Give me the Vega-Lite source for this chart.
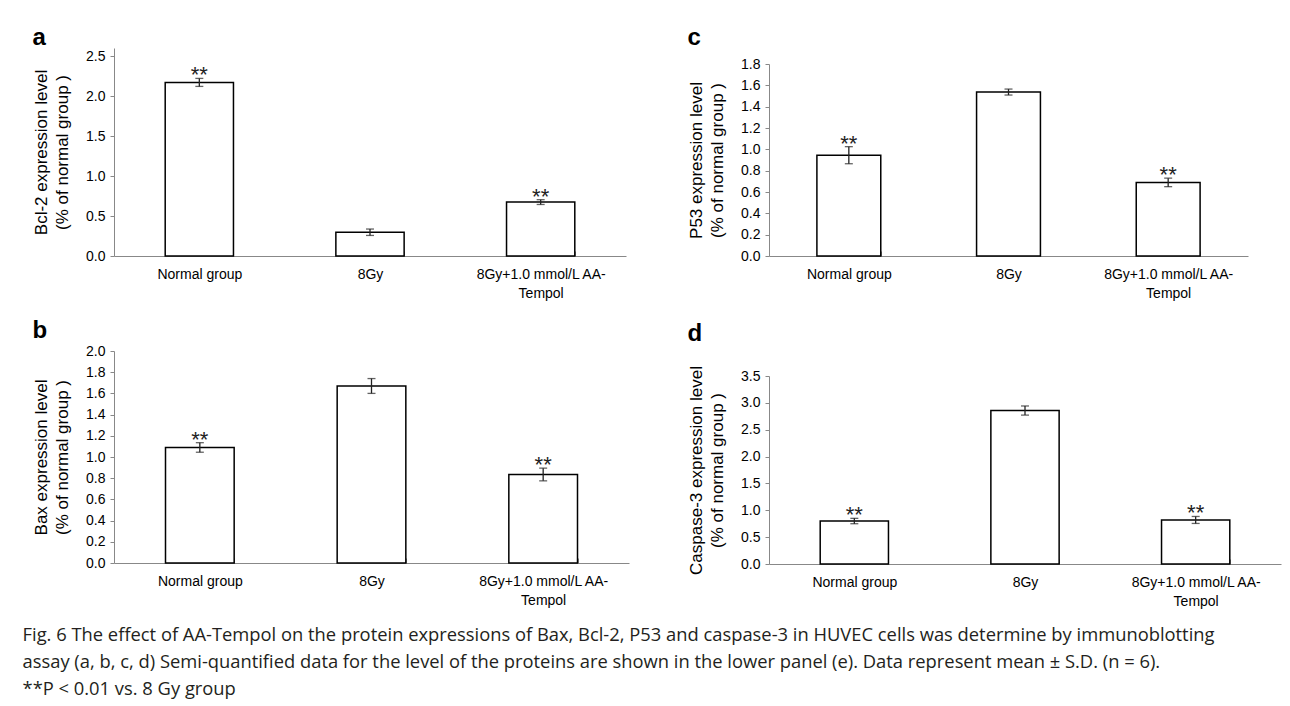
{
  "$schema": "https://vega.github.io/schema/vega-lite/v6.json",
  "background": "white",
  "padding": {"left": 22, "top": 4, "right": 4, "bottom": 2},
  "config": {
    "font": "Liberation Sans",
    "view": {"stroke": null},
    "axisY": {"domainColor": "#888", "tickColor": "#888", "tickSize": 4, "labelPadding": 5, "labelFontSize": 14, "labelColor": "black", "labelOverlap": false, "titleFontSize": 17, "titleFontWeight": "normal", "titleColor": "black", "titleLineHeight": 21, "titlePadding": 14, "grid": false, "format": ".1f"},
    "axisX": {"domainColor": "#888", "tickColor": "#888", "tickBand": "extent", "tickSize": -5, "labelPadding": 16, "labelAngle": 0, "labelFontSize": 14, "labelColor": "black", "labelLineHeight": 19, "labelLimit": 0, "title": null, "labelExpr": "split(datum.label, '|')"},
    "title": {"anchor": "start", "frame": "bounds", "fontSize": 24, "fontWeight": "bold", "color": "black"}
  },
  "datasets": {
    "expr": [
      {"panel": "a", "group": "Normal group", "mean": 2.17, "lo": 2.12, "hi": 2.22, "sig": "**"},
      {"panel": "a", "group": "8Gy", "mean": 0.297, "lo": 0.257, "hi": 0.337, "sig": ""},
      {"panel": "a", "group": "8Gy+1.0 mmol/L AA-|Tempol", "mean": 0.674, "lo": 0.644, "hi": 0.704, "sig": "**"},
      {"panel": "c", "group": "Normal group", "mean": 0.945, "lo": 0.865, "hi": 1.025, "sig": "**"},
      {"panel": "c", "group": "8Gy", "mean": 1.537, "lo": 1.509, "hi": 1.565, "sig": ""},
      {"panel": "c", "group": "8Gy+1.0 mmol/L AA-|Tempol", "mean": 0.69, "lo": 0.65, "hi": 0.73, "sig": "**"},
      {"panel": "b", "group": "Normal group", "mean": 1.09, "lo": 1.045, "hi": 1.135, "sig": "**"},
      {"panel": "b", "group": "8Gy", "mean": 1.67, "lo": 1.6, "hi": 1.74, "sig": ""},
      {"panel": "b", "group": "8Gy+1.0 mmol/L AA-|Tempol", "mean": 0.835, "lo": 0.775, "hi": 0.895, "sig": "**"},
      {"panel": "d", "group": "Normal group", "mean": 0.8, "lo": 0.75, "hi": 0.85, "sig": "**"},
      {"panel": "d", "group": "8Gy", "mean": 2.857, "lo": 2.772, "hi": 2.942, "sig": ""},
      {"panel": "d", "group": "8Gy+1.0 mmol/L AA-|Tempol", "mean": 0.82, "lo": 0.755, "hi": 0.885, "sig": "**"}
    ],
    "none": []
  },
  "title": {
    "text": [
      "Fig. 6 The effect of AA-Tempol on the protein expressions of Bax, Bcl-2, P53 and caspase-3 in HUVEC cells was determine by immunoblotting",
      "assay (a, b, c, d) Semi-quantified data for the level of the proteins are shown in the lower panel (e). Data represent mean ± S.D. (n = 6).",
      "**P < 0.01 vs. 8 Gy group"
    ],
    "orient": "bottom", "anchor": "start", "frame": "bounds", "font": "Open Sans", "fontSize": 18.35, "fontWeight": "normal", "lineHeight": 27, "color": "#231f20", "offset": 19, "dx": -10
  },
  "spacing": 58,
  "hconcat": [
    {
      "spacing": 19,
      "vconcat": [
        {"width": 1, "height": 3, "data": {"name": "none"}, "mark": "point"},
        {
          "width": 512, "height": 208,
          "title": {"text": "a", "offset": -2},
          "data": {"name": "expr"},
          "transform": [{"filter": "datum.panel == 'a'"}],
          "encoding": {"x": {"field": "group", "type": "nominal", "sort": ["Normal group", "8Gy", "8Gy+1.0 mmol/L AA-|Tempol"], "scale": {"paddingInner": 0.6, "paddingOuter": 0.3}}},
          "layer": [
            {"mark": {"type": "bar", "fill": "white", "stroke": "black", "strokeWidth": 1.5}, "encoding": {"y": {"field": "mean", "type": "quantitative", "scale": {"domain": [0, 2.5]}, "title": ["Bcl-2 expression level", "(% of normal group )"], "axis": {"values": [0, 0.5, 1, 1.5, 2, 2.5]}}}},
            {"mark": {"type": "rule", "color": "#222", "strokeWidth": 1.3}, "encoding": {"y": {"field": "lo", "type": "quantitative", "title": ["Bcl-2 expression level", "(% of normal group )"], "axis": {"values": [0, 0.5, 1, 1.5, 2, 2.5]}}, "y2": {"field": "hi"}}},
            {"mark": {"type": "tick", "orient": "horizontal", "size": 8, "thickness": 1.3, "color": "#222"}, "encoding": {"y": {"field": "lo", "type": "quantitative", "title": ["Bcl-2 expression level", "(% of normal group )"], "axis": {"values": [0, 0.5, 1, 1.5, 2, 2.5]}}}},
            {"mark": {"type": "tick", "orient": "horizontal", "size": 8, "thickness": 1.3, "color": "#222"}, "encoding": {"y": {"field": "hi", "type": "quantitative", "title": ["Bcl-2 expression level", "(% of normal group )"], "axis": {"values": [0, 0.5, 1, 1.5, 2, 2.5]}}}},
            {"mark": {"type": "text", "baseline": "alphabetic", "dy": 4, "fontSize": 22, "color": "#222"}, "encoding": {"y": {"field": "hi", "type": "quantitative", "title": ["Bcl-2 expression level", "(% of normal group )"], "axis": {"values": [0, 0.5, 1, 1.5, 2, 2.5]}}, "text": {"field": "sig"}}}
          ]
        },
        {
          "width": 515, "height": 212,
          "title": {"text": "b", "offset": 1},
          "data": {"name": "expr"},
          "transform": [{"filter": "datum.panel == 'b'"}],
          "encoding": {"x": {"field": "group", "type": "nominal", "sort": ["Normal group", "8Gy", "8Gy+1.0 mmol/L AA-|Tempol"], "scale": {"paddingInner": 0.6, "paddingOuter": 0.3}}},
          "layer": [
            {"mark": {"type": "bar", "fill": "white", "stroke": "black", "strokeWidth": 1.5}, "encoding": {"y": {"field": "mean", "type": "quantitative", "scale": {"domain": [0, 2.0]}, "title": ["Bax expression level", "(% of normal group )"], "axis": {"values": [0, 0.2, 0.4, 0.6, 0.8, 1, 1.2, 1.4, 1.6, 1.8, 2.0]}}}},
            {"mark": {"type": "rule", "color": "#222", "strokeWidth": 1.3}, "encoding": {"y": {"field": "lo", "type": "quantitative", "title": ["Bax expression level", "(% of normal group )"], "axis": {"values": [0, 0.2, 0.4, 0.6, 0.8, 1, 1.2, 1.4, 1.6, 1.8, 2.0]}}, "y2": {"field": "hi"}}},
            {"mark": {"type": "tick", "orient": "horizontal", "size": 8, "thickness": 1.3, "color": "#222"}, "encoding": {"y": {"field": "lo", "type": "quantitative", "title": ["Bax expression level", "(% of normal group )"], "axis": {"values": [0, 0.2, 0.4, 0.6, 0.8, 1, 1.2, 1.4, 1.6, 1.8, 2.0]}}}},
            {"mark": {"type": "tick", "orient": "horizontal", "size": 8, "thickness": 1.3, "color": "#222"}, "encoding": {"y": {"field": "hi", "type": "quantitative", "title": ["Bax expression level", "(% of normal group )"], "axis": {"values": [0, 0.2, 0.4, 0.6, 0.8, 1, 1.2, 1.4, 1.6, 1.8, 2.0]}}}},
            {"mark": {"type": "text", "baseline": "alphabetic", "dy": 4, "fontSize": 22, "color": "#222"}, "encoding": {"y": {"field": "hi", "type": "quantitative", "title": ["Bax expression level", "(% of normal group )"], "axis": {"values": [0, 0.2, 0.4, 0.6, 0.8, 1, 1.2, 1.4, 1.6, 1.8, 2.0]}}, "text": {"field": "sig"}}}
          ]
        }
      ]
    },
    {
      "spacing": 21,
      "vconcat": [
        {"width": 1, "height": 1, "data": {"name": "none"}, "mark": "point"},
        {
          "width": 479, "height": 192,
          "title": {"text": "c", "offset": 7},
          "data": {"name": "expr"},
          "transform": [{"filter": "datum.panel == 'c'"}],
          "encoding": {"x": {"field": "group", "type": "nominal", "sort": ["Normal group", "8Gy", "8Gy+1.0 mmol/L AA-|Tempol"], "scale": {"paddingInner": 0.6, "paddingOuter": 0.3}}},
          "layer": [
            {"mark": {"type": "bar", "fill": "white", "stroke": "black", "strokeWidth": 1.5}, "encoding": {"y": {"field": "mean", "type": "quantitative", "scale": {"domain": [0, 1.8]}, "title": ["P53 expression level", "(% of normal group )"], "axis": {"values": [0, 0.2, 0.4, 0.6, 0.8, 1, 1.2, 1.4, 1.6, 1.8]}}}},
            {"mark": {"type": "rule", "color": "#222", "strokeWidth": 1.3}, "encoding": {"y": {"field": "lo", "type": "quantitative", "title": ["P53 expression level", "(% of normal group )"], "axis": {"values": [0, 0.2, 0.4, 0.6, 0.8, 1, 1.2, 1.4, 1.6, 1.8]}}, "y2": {"field": "hi"}}},
            {"mark": {"type": "tick", "orient": "horizontal", "size": 8, "thickness": 1.3, "color": "#222"}, "encoding": {"y": {"field": "lo", "type": "quantitative", "title": ["P53 expression level", "(% of normal group )"], "axis": {"values": [0, 0.2, 0.4, 0.6, 0.8, 1, 1.2, 1.4, 1.6, 1.8]}}}},
            {"mark": {"type": "tick", "orient": "horizontal", "size": 8, "thickness": 1.3, "color": "#222"}, "encoding": {"y": {"field": "hi", "type": "quantitative", "title": ["P53 expression level", "(% of normal group )"], "axis": {"values": [0, 0.2, 0.4, 0.6, 0.8, 1, 1.2, 1.4, 1.6, 1.8]}}}},
            {"mark": {"type": "text", "baseline": "alphabetic", "dy": 4, "fontSize": 22, "color": "#222"}, "encoding": {"y": {"field": "hi", "type": "quantitative", "title": ["P53 expression level", "(% of normal group )"], "axis": {"values": [0, 0.2, 0.4, 0.6, 0.8, 1, 1.2, 1.4, 1.6, 1.8]}}, "text": {"field": "sig"}}}
          ]
        },
        {
          "width": 512, "height": 188,
          "title": {"text": "d", "offset": 20},
          "data": {"name": "expr"},
          "transform": [{"filter": "datum.panel == 'd'"}],
          "encoding": {"x": {"field": "group", "type": "nominal", "sort": ["Normal group", "8Gy", "8Gy+1.0 mmol/L AA-|Tempol"], "scale": {"paddingInner": 0.6, "paddingOuter": 0.3}}},
          "layer": [
            {"mark": {"type": "bar", "fill": "white", "stroke": "black", "strokeWidth": 1.5}, "encoding": {"y": {"field": "mean", "type": "quantitative", "scale": {"domain": [0, 3.5]}, "title": ["Caspase-3 expression level", "(% of normal group )"], "axis": {"values": [0, 0.5, 1, 1.5, 2, 2.5, 3, 3.5]}}}},
            {"mark": {"type": "rule", "color": "#222", "strokeWidth": 1.3}, "encoding": {"y": {"field": "lo", "type": "quantitative", "title": ["Caspase-3 expression level", "(% of normal group )"], "axis": {"values": [0, 0.5, 1, 1.5, 2, 2.5, 3, 3.5]}}, "y2": {"field": "hi"}}},
            {"mark": {"type": "tick", "orient": "horizontal", "size": 8, "thickness": 1.3, "color": "#222"}, "encoding": {"y": {"field": "lo", "type": "quantitative", "title": ["Caspase-3 expression level", "(% of normal group )"], "axis": {"values": [0, 0.5, 1, 1.5, 2, 2.5, 3, 3.5]}}}},
            {"mark": {"type": "tick", "orient": "horizontal", "size": 8, "thickness": 1.3, "color": "#222"}, "encoding": {"y": {"field": "hi", "type": "quantitative", "title": ["Caspase-3 expression level", "(% of normal group )"], "axis": {"values": [0, 0.5, 1, 1.5, 2, 2.5, 3, 3.5]}}}},
            {"mark": {"type": "text", "baseline": "alphabetic", "dy": 4, "fontSize": 22, "color": "#222"}, "encoding": {"y": {"field": "hi", "type": "quantitative", "title": ["Caspase-3 expression level", "(% of normal group )"], "axis": {"values": [0, 0.5, 1, 1.5, 2, 2.5, 3, 3.5]}}, "text": {"field": "sig"}}}
          ]
        }
      ]
    }
  ]
}
